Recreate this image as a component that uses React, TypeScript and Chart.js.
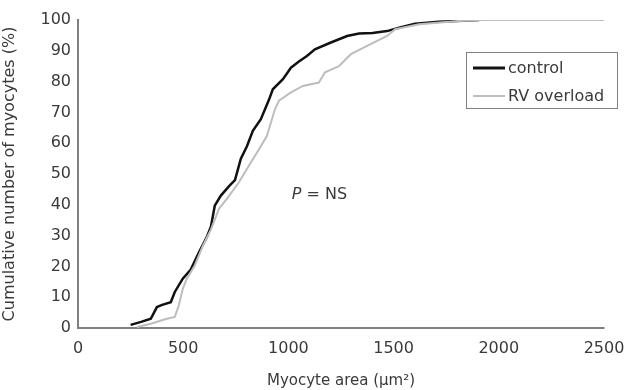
import React, { useEffect, useRef } from "react";
import { Chart, registerables } from "chart.js";

Chart.register(...registerables);

const controlArea = [250, 300, 346, 375, 400, 441, 460, 498, 536, 575, 612, 632, 650, 679, 717, 746, 774, 803, 831, 869, 907, 926, 974, 1012, 1050, 1088, 1126, 1202, 1279, 1336, 1400, 1469, 1526, 1602, 1716, 1800, 1906];
const controlPct = [1, 2, 3, 6.8, 7.5, 8.4, 11.7, 16, 19, 24.6, 29.5, 33, 39.7, 43, 46, 48, 55, 59, 64, 67.8, 74, 77.5, 80.8, 84.5, 86.5, 88.3, 90.5, 92.7, 94.8, 95.6, 95.8, 96.4, 97.5, 98.8, 99.4, 99.7, 100];
const rvArea = [280, 346, 422, 460, 479, 498, 517, 555, 594, 632, 670, 708, 765, 822, 860, 898, 936, 955, 1012, 1069, 1145, 1174, 1240, 1297, 1374, 1469, 1507, 1621, 1811, 1925, 2500];
const rvPct = [0.3, 1.4, 3, 3.6, 7.3, 12.7, 16, 20.3, 26.8, 32, 38.7, 42, 47.3, 53.8, 58, 62.4, 71, 73.8, 76.5, 78.6, 79.7, 83, 85, 88.9, 91.6, 94.8, 97, 98.6, 99.7, 100, 100];
const seriesNames = ["control", "RV overload"];
const xTicks = [0, 500, 1000, 1500, 2000, 2500];
const yTicks = [0, 10, 20, 30, 40, 50, 60, 70, 80, 90, 100];

const FONT = "'DejaVu Sans', sans-serif";
const TEXT = "#3a3a3a";
const AXIS = "#808080";

export default function App() {
  const ref = useRef<HTMLCanvasElement>(null);
  useEffect(() => {
    document.body.style.margin = "0";
    const ctx = ref.current!;
    const overlay = {
      id: "overlay",
      afterDraw(chart: any) {
        const c = chart.ctx;
        const xs = chart.scales.x;
        const ys = chart.scales.y;
        c.save();
        c.fillStyle = TEXT;
        c.textBaseline = "middle";
        c.font = `italic 16px ${FONT}`;
        const px = xs.getPixelForValue(1016);
        const py = ys.getPixelForValue(43.2);
        c.fillText("P", px, py);
        const pw = c.measureText("P").width;
        c.font = `16px ${FONT}`;
        c.fillText(" = NS", px + pw, py);
        // legend box
        const bx = 466, by = 52, bw = 151, bh = 56;
        c.strokeStyle = "#808080";
        c.lineWidth = 1;
        c.strokeRect(bx + 0.5, by + 0.5, bw, bh);
        const colors = ["#111", "#bdbdbd"];
        const widths = [3, 2];
        seriesNames.forEach((name, i) => {
          const ly = by + 16 + i * 28;
          c.strokeStyle = colors[i];
          c.lineWidth = widths[i];
          c.beginPath();
          c.moveTo(bx + 7, ly);
          c.lineTo(bx + 39, ly);
          c.stroke();
          c.fillStyle = TEXT;
          c.font = `16px ${FONT}`;
          c.fillText(name, bx + 42, ly + 1);
        });
        c.restore();
      },
    };
    const chart = new Chart(ctx, {
      type: "line",
      data: {
        datasets: [
          {
            label: seriesNames[1],
            data: rvArea.map((x, i) => ({ x, y: rvPct[i] })),
            borderColor: "#bdbdbd",
            borderWidth: 2,
            pointRadius: 0,
            tension: 0,
          },
          {
            label: seriesNames[0],
            data: controlArea.map((x, i) => ({ x, y: controlPct[i] })),
            borderColor: "#111",
            borderWidth: 2.5,
            pointRadius: 0,
            tension: 0,
          },
        ],
      },
      options: {
        animation: false,
        responsive: false,
        layout: { padding: { top: 20, right: 21, left: 0, bottom: 0 } },
        plugins: { legend: { display: false }, tooltip: { enabled: false } },
        scales: {
          x: {
            type: "linear",
            min: 0,
            max: 2500,
            afterBuildTicks(s: any) {
              s.ticks = xTicks.map((v) => ({ value: v }));
            },
            afterFit(s: any) {
              s.height = 62;
              s.paddingRight = 0;
              s.paddingLeft = 0;
            },
            grid: { display: false, drawOnChartArea: false, drawTicks: true, tickLength: 4, color: AXIS, lineWidth: 1.5 },
            border: { color: AXIS, width: 2 },
            ticks: { color: TEXT, font: { family: FONT, size: 16 }, padding: 7, maxRotation: 0, callback: (v: any) => String(v) },
            title: {
              display: true,
              text: "Myocyte area (µm²)",
              color: TEXT,
              font: { family: FONT, size: 15 },
              padding: { top: 10, bottom: 0 },
            },
          },
          y: {
            type: "linear",
            min: 0,
            max: 100,
            afterBuildTicks(s: any) {
              s.ticks = yTicks.map((v) => ({ value: v }));
            },
            afterFit(s: any) {
              s.width = 78;
            },
            grid: { display: false, drawOnChartArea: false, drawTicks: true, tickLength: 4, color: AXIS, lineWidth: 1.5 },
            border: { color: AXIS, width: 2 },
            ticks: { color: TEXT, font: { family: FONT, size: 16 }, padding: 3, callback: (v: any) => String(v) },
            title: {
              display: true,
              text: "Cumulative number of myocytes (%)",
              color: TEXT,
              font: { family: FONT, size: 16 },
              padding: { top: 0, bottom: 2 },
            },
          },
        },
      },
      plugins: [overlay],
    });
    return () => chart.destroy();
  }, []);
  return <canvas ref={ref} width={625} height={390} style={{ display: "block" }} />;
}
